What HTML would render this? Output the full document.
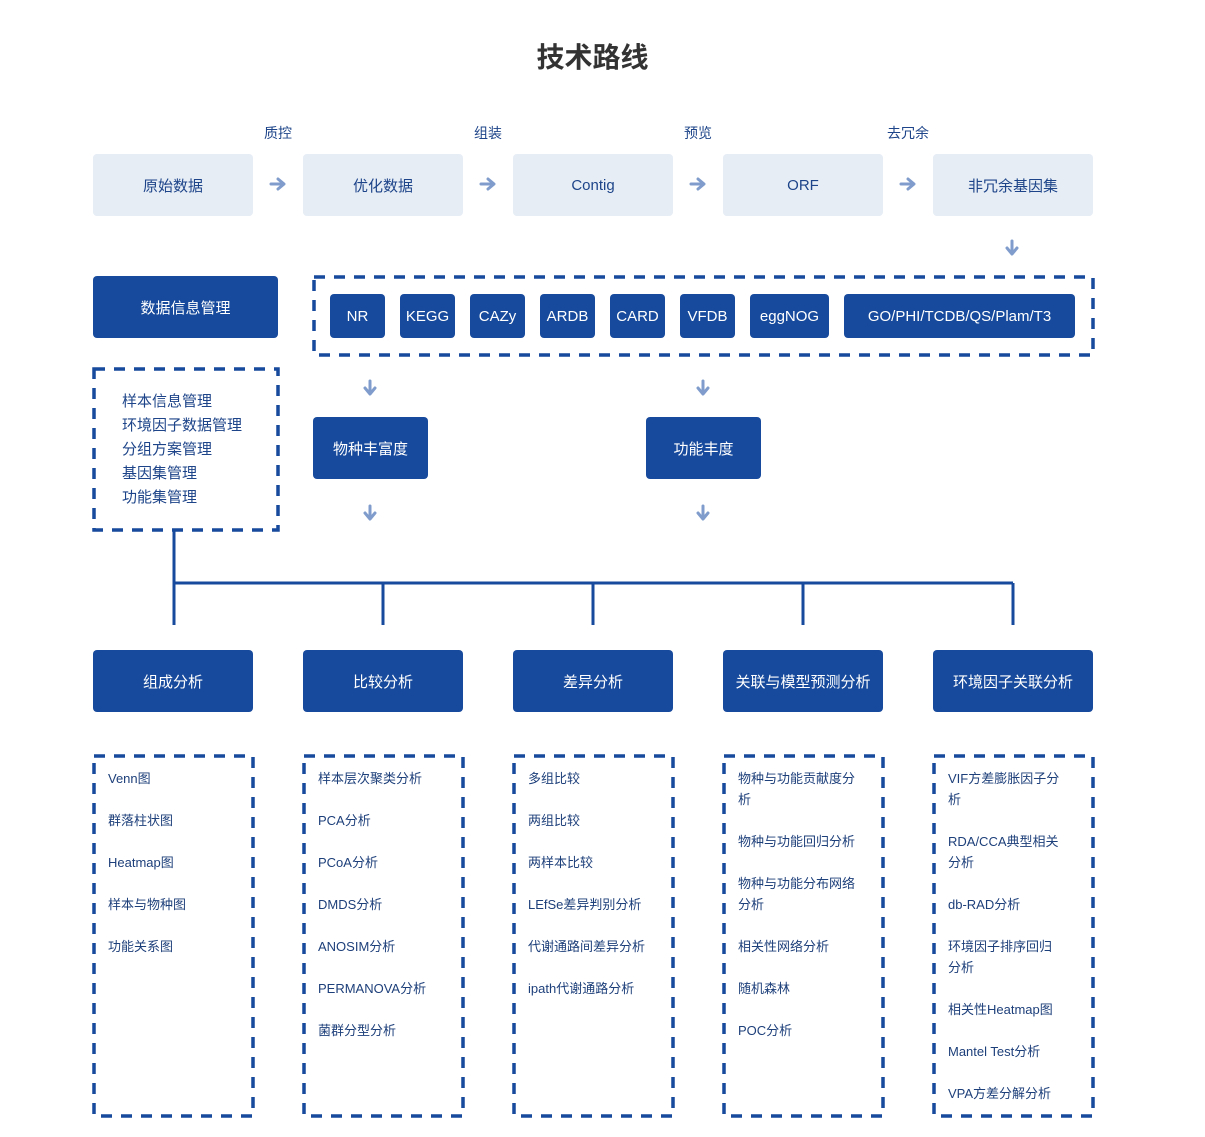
<!DOCTYPE html>
<html><head><meta charset="utf-8"><style>
*{margin:0;padding:0;box-sizing:border-box}
body{width:1205px;height:1137px;background:#fff;position:relative;font-family:"Liberation Sans","Noto Sans CJK SC",sans-serif;overflow:hidden}
.a{position:absolute}
.lt{position:absolute;background:#e6edf5;border-radius:4px;color:#1d4489;font-size:15px;display:flex;align-items:center;justify-content:center;height:62px;width:160px;top:154px}
.dk{position:absolute;background:#174a9c;border-radius:4px;color:#fff;font-size:15px;display:flex;align-items:center;justify-content:center}
.chip{top:294px;height:44px;font-size:15px}
.lbl{position:absolute;top:123px;font-size:14px;color:#1d4489;transform:translateX(-50%)}
.list{position:absolute;top:768px;font-size:13px;color:#1d3f7a;line-height:21px}
.list div{margin-bottom:21px;white-space:nowrap}
svg{position:absolute;left:0;top:0}
</style></head><body>
<div class="a" style="left:0;width:1185px;top:36px;text-align:center;font-size:28px;font-weight:bold;color:#333">技术路线</div>

<div class="lbl" style="left:278px">质控</div>
<div class="lbl" style="left:488px">组装</div>
<div class="lbl" style="left:698px">预览</div>
<div class="lbl" style="left:908px">去冗余</div>

<div class="lt" style="left:93px">原始数据</div>
<div class="lt" style="left:303px">优化数据</div>
<div class="lt" style="left:513px">Contig</div>
<div class="lt" style="left:723px">ORF</div>
<div class="lt" style="left:933px">非冗余基因集</div>

<svg width="1205" height="1137">
<defs><g id="ar"><path d="M-7,0 H5 M0,-5 L6,0 L0,5" stroke="#7f9ccc" stroke-width="3" fill="none" stroke-linecap="round" stroke-linejoin="round"/></g>
<g id="ad"><path d="M0,-7 V5 M-5,0 L0,6 L5,0" stroke="#7f9ccc" stroke-width="3" fill="none" stroke-linecap="round" stroke-linejoin="round"/></g></defs>
<use href="#ar" x="278" y="184"/><use href="#ar" x="488" y="184"/><use href="#ar" x="698" y="184"/><use href="#ar" x="908" y="184"/>
<use href="#ad" x="1012" y="248"/>
<use href="#ad" x="370" y="388"/><use href="#ad" x="703" y="388"/>
<use href="#ad" x="370" y="513"/><use href="#ad" x="703" y="513"/>
<g fill="none" stroke="#174a9c" stroke-width="3.5" stroke-dasharray="11 9">
<rect x="314" y="277" width="779" height="78"/>
<rect x="94" y="369" width="184" height="161"/>
<rect x="94" y="756" width="159" height="360"/>
<rect x="304" y="756" width="159" height="360"/>
<rect x="514" y="756" width="159" height="360"/>
<rect x="724" y="756" width="159" height="360"/>
<rect x="934" y="756" width="159" height="360"/>
</g>
<g stroke="#174a9c" stroke-width="3" fill="none">
<path d="M174,530 V625 M173,583 H1013 M383,583 V625 M593,583 V625 M803,583 V625 M1013,583 V625"/>
</g>
</svg>

<div class="dk" style="left:93px;top:276px;width:185px;height:62px">数据信息管理</div>
<div class="dk chip" style="left:330px;width:55px">NR</div>
<div class="dk chip" style="left:400px;width:55px">KEGG</div>
<div class="dk chip" style="left:470px;width:55px">CAZy</div>
<div class="dk chip" style="left:540px;width:55px">ARDB</div>
<div class="dk chip" style="left:610px;width:55px">CARD</div>
<div class="dk chip" style="left:680px;width:55px">VFDB</div>
<div class="dk chip" style="left:750px;width:79px">eggNOG</div>
<div class="dk chip" style="left:844px;width:231px">GO/PHI/TCDB/QS/Plam/T3</div>

<div class="a" style="left:122px;top:390px;font-size:15px;color:#1d4489;line-height:24px">样本信息管理<br>环境因子数据管理<br>分组方案管理<br>基因集管理<br>功能集管理</div>

<div class="dk" style="left:313px;top:417px;width:115px;height:62px">物种丰富度</div>
<div class="dk" style="left:646px;top:417px;width:115px;height:62px">功能丰度</div>

<div class="dk" style="left:93px;top:650px;width:160px;height:62px">组成分析</div>
<div class="dk" style="left:303px;top:650px;width:160px;height:62px">比较分析</div>
<div class="dk" style="left:513px;top:650px;width:160px;height:62px">差异分析</div>
<div class="dk" style="left:723px;top:650px;width:160px;height:62px">关联与模型预测分析</div>
<div class="dk" style="left:933px;top:650px;width:160px;height:62px">环境因子关联分析</div>

<div class="list" style="left:108px"><div>Venn图</div><div>群落柱状图</div><div>Heatmap图</div><div>样本与物种图</div><div>功能关系图</div></div>
<div class="list" style="left:318px"><div>样本层次聚类分析</div><div>PCA分析</div><div>PCoA分析</div><div>DMDS分析</div><div>ANOSIM分析</div><div>PERMANOVA分析</div><div>菌群分型分析</div></div>
<div class="list" style="left:528px"><div>多组比较</div><div>两组比较</div><div>两样本比较</div><div>LEfSe差异判别分析</div><div>代谢通路间差异分析</div><div>ipath代谢通路分析</div></div>
<div class="list" style="left:738px"><div>物种与功能贡献度分<br>析</div><div>物种与功能回归分析</div><div>物种与功能分布网络<br>分析</div><div>相关性网络分析</div><div>随机森林</div><div>POC分析</div></div>
<div class="list" style="left:948px"><div>VIF方差膨胀因子分<br>析</div><div>RDA/CCA典型相关<br>分析</div><div>db-RAD分析</div><div>环境因子排序回归<br>分析</div><div>相关性Heatmap图</div><div>Mantel Test分析</div><div>VPA方差分解分析</div></div>
</body></html>
